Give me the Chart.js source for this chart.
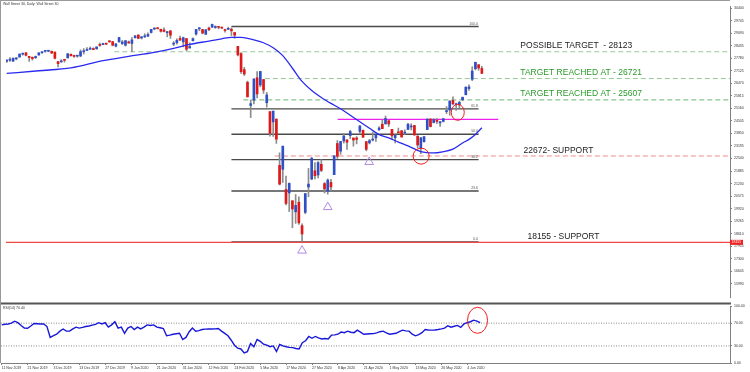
<!DOCTYPE html>
<html><head><meta charset="utf-8">
<script src="https://cdn.jsdelivr.net/npm/chart.js@4/dist/chart.umd.min.js"></script>
<style>
html,body{margin:0;padding:0;background:#fff;}
#wrap{position:relative;width:750px;height:372px;overflow:hidden;background:#fff;}
#c1{position:absolute;left:0;top:0;}
#c2{position:absolute;left:0;top:302px;}
</style></head><body>
<div id="wrap"><canvas id="c1" width="750" height="303"></canvas><canvas id="c2" width="750" height="70"></canvas></div>
<script>
// ---------- data ----------
const tickLabels = ["11 Nov 2019","21 Nov 2019","3 Dec 2019","13 Dec 2019","27 Dec 2019","9 Jan 2020","21 Jan 2020","31 Jan 2020","12 Feb 2020","24 Feb 2020","5 Mar 2020","17 Mar 2020","27 Mar 2020","8 Apr 2020","21 Apr 2020","1 May 2020","13 May 2020","26 May 2020","4 Jun 2020"];
const tickBars = [0,8,16,24,32,40,48,56,64,72,80,88,96,104,112,120,128,136,144];
const priceTicks = [30400,29745,29090,28435,27780,27125,26470,25815,25160,24505,23850,23195,22540,21885,21230,20575,19920,19265,18610,17955,17300,16645,15990];
const rsiTicks = [0,30,70,100];

const opens = [
27623,27681,27635,27749,27843,27995,28065,27881,27835,27812,
27950,28073,28145,28150,28153,28110,27610,27591,27706,27800,
27988,27900,27893,27903,28123,28191,28253,28287,28279,28457,
28491,28572,28675,28654,28414,28639,28553,28466,28639,28556,
28852,29000,28844,28905,28940,29130,29313,29340,29300,29264,
29122,29212,28523,28597,28820,28640,28813,28319,28696,29048,
29322,29287,29034,29365,29405,29392,29437,29390,29283,29292,
29305,29128,28402,28027,27188,26526,25317,25590,26762,26383,
26672,25457,24992,24453,24604,22184,21974,20918,20739,20330,
19748,20253,19028,19722,21050,21468,21898,21678,22237,21227,
20819,21285,21693,23324,22924,23457,23516,23738,23613,23615,
23956,24017,23424,23356,23504,23619,24040,24334,24348,24520,
24065,23624,23932,23993,23868,24059,24189,24269,23706,23073,
23422,24053,24603,24420,24555,24402,24480,24993,25076,25576,
25353,25343,25613,25873,26199,26682,27233,27447,27251];
const highs = [
27697,27813,27807,27818,28005,28057,28090,27881,27848,27900,
28076,28122,28174,28175,28153,28111,27612,27709,27717,28039,
28011,27949,27922,28224,28290,28337,28376,28332,28377,28582,
28582,28576,28701,28664,28547,28873,28716,28708,28685,28866,
28973,29009,28908,29065,29118,29297,29374,29370,29300,29373,
29194,29247,28653,28799,28944,28892,28814,28592,28856,29301,
29379,29287,29278,29415,29568,29480,29437,29420,29306,29406,
29369,29128,28402,28076,27309,26591,25599,26706,27084,27102,
26672,25994,24992,25020,24604,22837,23186,21624,21269,20330,
20654,20531,19121,20705,22020,22595,22327,22378,22480,21285,
21477,21447,22680,23478,23434,23847,23516,24010,23613,23689,
24264,24024,23424,23541,23907,23783,24214,24567,24764,24520,
24065,23778,24133,24013,24043,24373,24358,24272,23740,23637,
23691,24625,24619,24621,24631,24479,24650,25259,25553,25764,
25441,25528,25750,26294,26389,27338,27580,27447,27355];
const lows = [
27567,27614,27604,27698,27843,27944,27904,27617,27685,27772,
27950,28036,28099,28120,28036,27744,27325,27573,27581,27800,
27907,27830,27834,27860,28004,28191,28253,28234,28247,28406,
28491,28503,28608,28428,28376,28627,28500,28419,28565,28123,
28852,28801,28789,28866,28911,29100,29272,29310,29151,29160,
28904,28818,28442,28521,28708,28378,28169,28319,28696,28986,
29226,29056,29034,29222,29405,29346,29317,29330,29142,29292,
28971,28826,27906,26985,26880,25752,24681,25391,25706,26286,
25944,25226,23707,23690,23328,21154,21285,20116,19764,18917,
19145,19094,18214,19649,20539,21427,21469,21522,21853,20735,
20675,20863,21693,22543,22757,23346,23011,23579,23184,23304,
23826,23649,22942,23299,23457,23427,24008,24101,24348,24212,
23567,23361,23858,23659,23794,24059,24031,23764,23102,22790,
23390,24053,24192,24395,24362,24223,24450,24883,24800,25347,
25052,25202,25557,25873,26099,26608,27174,27154,26972];
const closes = [
27691,27691,27784,27782,28005,28036,27934,27821,27766,27876,
28066,28121,28164,28160,28051,27783,27503,27650,27677,28015,
27909,27881,27911,28132,28135,28235,28267,28239,28377,28455,
28551,28515,28645,28462,28538,28868,28634,28703,28583,28745,
28956,28824,28907,28940,29030,29297,29348,29330,29196,29186,
29160,28990,28535,28723,28734,28859,28256,28399,28807,29290,
29379,29102,29276,29276,29551,29423,29398,29360,29232,29348,
29219,28992,27961,27081,26957,25767,25409,26703,25917,27091,
26121,25865,23851,25018,23553,21200,23186,20189,21237,19899,
20087,19174,18592,20705,21200,22552,21637,22327,21917,20944,
21413,21053,22680,22654,23434,23719,23390,23950,23505,23538,
24242,23650,23019,23475,23515,23775,24134,24101,24634,24346,
23724,23750,23883,23665,23876,24331,24222,23765,23248,23625,
23685,24597,24207,24576,24474,24465,24620,24995,25548,25401,
25383,25475,25742,26270,26282,27111,27572,27272,26990];

// moving average (bar index, price)
const maBars = [0,10,20,30,38,46,52,57,63,67,70,73,77,80,83,86,89,92,95,98,101,104,107,110,113,116,119,122,125,129,133,136,139,142,144,146,148];
const maVals = [26990,27130,27280,27660,27880,28090,28300,28510,28680,28800,28880,28870,28750,28595,28330,27920,27260,26570,26100,25730,25420,25140,24800,24460,24120,23790,23620,23400,23200,22900,22830,22900,23030,23350,23540,23800,24150];

// RSI(14)
const rsi = [
67,68,68.5,70,73.5,71,66,61.5,61,65,
69.5,69,68.5,68.7,64,45,48,50.5,56,59.8,
56,56,60,63,61.4,62.5,64.2,65,66.5,68,
70.8,68.7,70.8,63,67,72.5,61.4,63,52.2,61.4,
64.2,58.8,63,60,63,67,66,67,63,62,
60.5,47.8,49,50.6,51.5,52.2,41.2,45,55,61.4,
56,57,58.8,59.5,59.8,59.8,60,60.5,56,52,
47.8,40,31.3,26,24.7,17.7,20,34.1,28.6,41.2,
37.9,33,31.3,28.6,30,20.3,32.5,30,28.6,27.5,
27,25.5,24.7,35.8,39.1,46.6,43.5,46.6,44,42.3,
43,42.3,48.9,49.5,50.6,54.4,53.3,56,54,53.3,
57.7,54.4,50.6,51,51.5,51.7,53,55,56,53,
50.6,51.5,52.2,55,57.7,56.5,56,50.6,47.8,50,
53.3,58.8,58,57.7,58,58.8,60,61.4,65.4,63,
64.5,66,62.5,68.7,70.8,72.5,75.3,73.6,70.8];

const fibValues = [29440,25138,23810,22481,20837,18180];
const fibNames = ["100.0","61.8","50.0","38.2","23.6","0.0"];
const targetValues = [28123,26721,25607];
const supportValues = [22672,18155];
const channelValue = 24584;
const lowMarkBars = [92,100,112.9];
const lowMarkVals = [17722,19998,22359];

// ---------- layout helpers ----------
const X_MIN = -0.22, X_MAX = 225.3;
const Y_MIN = 15296, Y_MAX = 30516;
const FONT = "'Liberation Sans', Arial, sans-serif";

const bars = opens.map((_, i) => i);
const wickData = bars.map(i => ({x: i, y: [lows[i], highs[i]]}));
const bodyData = bars.map(i => ({x: i, y: [Math.min(opens[i], closes[i]), Math.max(opens[i], closes[i])]}));
const bodyColors = bars.map(i => closes[i] >= opens[i] ? '#2f4fc6' : '#e01818');

function seg(v, x0, x1, color, width, dash) {
  return {type: 'line', data: [{x: x0, y: v}, {x: x1, y: v}], borderColor: color, borderWidth: width,
          borderDash: dash || [], pointRadius: 0, order: 10, tension: 0};
}

const mainDatasets = [
  seg(targetValues[0], 33.5, X_MAX, '#98c898', 1, [5, 3]),
  seg(targetValues[1], 80.4, X_MAX, '#98c898', 1, [5, 3]),
  seg(targetValues[2], 73.7, X_MAX, '#8cc48c', 1.2, [5, 3]),
  seg(supportValues[0], 83.5, X_MAX, '#f08c8c', 1, [5, 3]),
  seg(supportValues[1], X_MIN, X_MAX, '#f04848', 1.2),
  seg(channelValue, 103.1, 153.1, '#f020f0', 1.4),
];
fibValues.forEach(v => mainDatasets.push(seg(v, 70, 147, '#4a4a4a', 1.4)));
mainDatasets.push({type: 'bar', data: wickData, backgroundColor: '#8c8c8c', barThickness: 1, grouped: false, order: 6});
mainDatasets.push({type: 'bar', data: bodyData, backgroundColor: bodyColors, barThickness: 2, grouped: false, minBarLength: 1, order: 5});
mainDatasets.push({type: 'line', data: maBars.map((b, k) => ({x: b, y: maVals[k]})), borderColor: '#2a2af0', borderWidth: 1.3,
                   pointRadius: 0, tension: 0.4, cubicInterpolationMode: 'monotone', order: 2});
mainDatasets.push({type: 'scatter', data: lowMarkBars.map((b, k) => ({x: b, y: lowMarkVals[k]})), pointStyle: 'triangle',
                   pointRadius: 5, pointBorderColor: '#b08ade', pointBackgroundColor: 'rgba(0,0,0,0)', pointBorderWidth: 1, order: 1});

const notes = [
  {t: 'POSSIBLE TARGET  - 28123', v: targetValues[0], b: 160, c: '#222222'},
  {t: 'TARGET REACHED AT - 26721', v: targetValues[1], b: 160, c: '#2a9a2a'},
  {t: 'TARGET REACHED AT - 25607', v: targetValues[2], b: 160, c: '#2a9a2a'},
  {t: '22672- SUPPORT', v: supportValues[0], b: 161, c: '#222222'},
  {t: '18155 - SUPPORT', v: supportValues[1], b: 162.2, c: '#222222'},
];
const rings = [{b: 140.5, v: 24954, rx: 6.5, ry: 8}, {b: 129.1, v: 22663, rx: 8, ry: 8}];

const mainPlugin = {
  id: 'mainDeco',
  afterDatasetsDraw(chart) {
    const {ctx, scales: {x, y}} = chart;
    ctx.save();
    // fib labels
    ctx.font = '3.5px ' + FONT; ctx.fillStyle = '#555'; ctx.textAlign = 'right'; ctx.textBaseline = 'bottom';
    fibValues.forEach((v, k) => ctx.fillText(fibNames[k], x.getPixelForValue(146.8), y.getPixelForValue(v) - 1));
    // notes
    ctx.font = '8.5px ' + FONT; ctx.textAlign = 'left'; ctx.textBaseline = 'bottom';
    notes.forEach(n => { ctx.fillStyle = n.c; ctx.fillText(n.t, x.getPixelForValue(n.b), y.getPixelForValue(n.v) - 1.5); });
    // rings
    ctx.strokeStyle = '#f01c1c'; ctx.lineWidth = 1;
    rings.forEach(r => { ctx.beginPath(); ctx.ellipse(x.getPixelForValue(r.b), y.getPixelForValue(r.v), r.rx, r.ry, 0, 0, Math.PI * 2); ctx.stroke(); });
    // title
    ctx.font = '3.5px ' + FONT; ctx.fillStyle = '#333'; ctx.textAlign = 'left'; ctx.textBaseline = 'top';
    ctx.fillText('Wall Street 30, Daily: Wall Street 30', 3, 2.5);
    // red price tag on axis
    const py = y.getPixelForValue(supportValues[1]);
    ctx.fillStyle = '#f02020'; ctx.fillRect(730, py - 2.5, 13, 5);
    ctx.fillStyle = '#fff'; ctx.textBaseline = 'middle'; ctx.fillText('18155', 731.5, py);
    // frame
    ctx.strokeStyle = '#999'; ctx.lineWidth = 1;
    ctx.beginPath(); ctx.moveTo(0.5, 0); ctx.lineTo(0.5, 303); ctx.moveTo(0, 0.5); ctx.lineTo(730, 0.5); ctx.stroke();
    ctx.restore();
  }
};

new Chart(document.getElementById('c1'), {
  type: 'bar',
  data: {datasets: mainDatasets},
  options: {
    responsive: false, animation: false, devicePixelRatio: 1,
    layout: {padding: {left: 1, top: 2, right: 0, bottom: 0}},
    plugins: {legend: {display: false}, tooltip: {enabled: false}},
    events: [],
    scales: {
      x: {type: 'linear', display: false, min: X_MIN, max: X_MAX, offset: false, grid: {offset: false}},
      y: {position: 'right', min: Y_MIN, max: Y_MAX,
          afterBuildTicks: s => { s.ticks = priceTicks.map(v => ({value: v})); },
          afterFit: s => { s.width = 20; },
          ticks: {font: {size: 3.5, family: FONT}, color: '#333', padding: 2, callback: v => String(v)},
          grid: {drawOnChartArea: false, tickLength: 2, color: '#808080'},
          border: {display: true, color: '#808080', width: 1}}
    }
  },
  plugins: [mainPlugin]
});

// ---------- RSI panel ----------
const rsiRing = {b: 147.2, v: 75, rx: 10, ry: 13};
const rsiPlugin = {
  id: 'rsiDeco',
  afterDatasetsDraw(chart) {
    const {ctx, scales: {x, y}} = chart;
    ctx.save();
    ctx.strokeStyle = '#555'; ctx.lineWidth = 2;
    ctx.beginPath(); ctx.moveTo(0, 1.5); ctx.lineTo(731, 1.5); ctx.stroke();
    ctx.strokeStyle = '#999'; ctx.lineWidth = 1;
    ctx.beginPath(); ctx.moveTo(0.5, 0); ctx.lineTo(0.5, 61); ctx.stroke();
    ctx.font = '3.5px ' + FONT; ctx.fillStyle = '#333'; ctx.textAlign = 'left'; ctx.textBaseline = 'top';
    ctx.fillText('RSI(14) 70.44', 3, 4);
    ctx.strokeStyle = '#f01c1c'; ctx.lineWidth = 1;
    ctx.beginPath(); ctx.ellipse(x.getPixelForValue(rsiRing.b), y.getPixelForValue(rsiRing.v), rsiRing.rx, rsiRing.ry, 0, 0, Math.PI * 2); ctx.stroke();
    ctx.restore();
  }
};

function rsiLevel(v) {
  return {data: [{x: X_MIN, y: v}, {x: X_MAX, y: v}], borderColor: '#8a8a8a', borderWidth: 1, borderDash: [1, 1.5], pointRadius: 0, order: 5};
}

new Chart(document.getElementById('c2'), {
  type: 'line',
  data: {datasets: [
    rsiLevel(70), rsiLevel(30),
    {data: bars.map(i => ({x: i, y: rsi[i]})), borderColor: '#1818d8', borderWidth: 1.4, pointRadius: 0, tension: 0, order: 1}
  ]},
  options: {
    responsive: false, animation: false, devicePixelRatio: 1,
    layout: {padding: {left: 1, top: 2, right: 0, bottom: 0}},
    plugins: {legend: {display: false}, tooltip: {enabled: false}},
    events: [],
    scales: {
      x: {type: 'linear', min: X_MIN, max: X_MAX, offset: false,
          afterBuildTicks: s => { s.ticks = tickBars.map(v => ({value: v})); },
          afterFit: s => { s.height = 9; },
          ticks: {font: {size: 3.5, family: FONT}, color: '#333', padding: 1, align: 'start', autoSkip: false,
                  maxRotation: 0, minRotation: 0, callback: (v, i) => tickLabels[i]},
          grid: {drawOnChartArea: false, tickLength: 2, color: '#808080'},
          border: {display: true, color: '#808080', width: 1}},
      y: {position: 'right', min: 0, max: 100,
          afterBuildTicks: s => { s.ticks = rsiTicks.map(v => ({value: v})); },
          afterFit: s => { s.width = 20; },
          ticks: {font: {size: 3.5, family: FONT}, color: '#333', padding: 2, callback: v => Number(v).toFixed(2)},
          grid: {drawOnChartArea: false, tickLength: 2, color: '#808080'},
          border: {display: true, color: '#808080', width: 1}}
    }
  },
  plugins: [rsiPlugin]
});
</script>
</body></html>
